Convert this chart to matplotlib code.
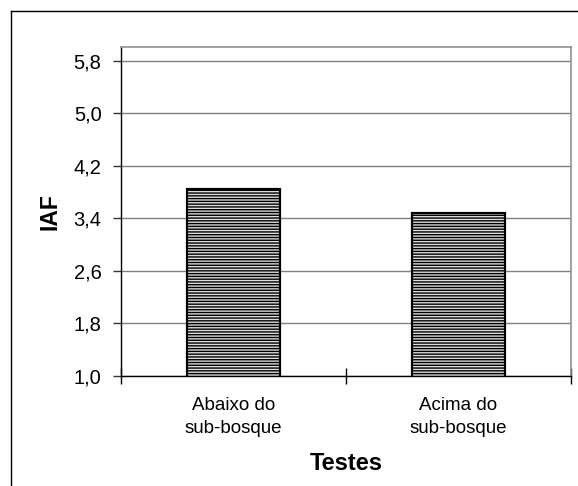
import numpy as np
import matplotlib
matplotlib.use("Agg")
import matplotlib.pyplot as plt
from matplotlib.lines import Line2D

# data
categories = ["Abaixo do\nsub-bosque", "Acima do\nsub-bosque"]
iaf_values = [3.85, 3.48]
y_ticks = [1.0, 1.8, 2.6, 3.4, 4.2, 5.0, 5.8]

plt.rcParams["font.family"] = ["Liberation Sans", "DejaVu Sans"]
plt.rcParams["hatch.linewidth"] = 1.0
plt.rcParams["hatch.color"] = "#404040"

W, H = 578, 486
fig = plt.figure(figsize=(W / 100, H / 100), dpi=100)
ax = fig.add_axes([121 / W, 1 - 376 / H, (571 - 121) / W, (376 - 47) / H])

x = np.arange(len(categories))
ax.bar(x, iaf_values, width=0.41, bottom=0, color="#dcdcdc", hatch="------",
       edgecolor="black", linewidth=1.5, zorder=3)
ax.bar(x, iaf_values, width=0.41, fill=False, edgecolor="black", linewidth=1.5, zorder=4)

ax.set_ylim(1.0, 6.01)
ax.set_xlim(-0.5, len(categories) - 0.5)
ax.set_yticks(y_ticks)
ax.set_yticklabels([f"{v:.1f}".replace(".", ",") for v in y_ticks], fontsize=14.5)
ax.yaxis.grid(True, color="#808080", linewidth=1.0, zorder=0)
ax.set_axisbelow(True)
ax.tick_params(axis="y", length=6, width=1, direction="out", pad=8, color="#333333")

# category boundaries as major ticks, labels on minor ticks
ax.set_xticks(np.arange(len(categories) + 1) - 0.5)
ax.set_xticklabels([])
ax.tick_params(axis="x", which="major", length=12, width=1, direction="inout")
ax.set_xticks(x, minor=True)
ax.set_xticklabels(categories, minor=True, fontsize=13.5, linespacing=1.45)
ax.tick_params(axis="x", which="minor", length=0, pad=15)

for side in ["top", "right"]:
    ax.spines[side].set_color("#909090")
    ax.spines[side].set_linewidth(1.2)
for side in ["left", "bottom"]:
    ax.spines[side].set_color("black")
    ax.spines[side].set_linewidth(1.0)

ax.set_ylabel("IAF", fontsize=16.5, fontweight="bold", labelpad=9)
ax.set_xlabel("Testes", fontsize=17, fontweight="bold", labelpad=11)

# outer chart frame (only top and left visible within the image)
fig.add_artist(Line2D([11 / W, 1], [1 - 11 / H, 1 - 11 / H], color="black", linewidth=1.0))
fig.add_artist(Line2D([11 / W, 11 / W], [0, 1 - 11 / H], color="black", linewidth=1.0))

fig.savefig("out.png", dpi=100)
plt.close(fig)
